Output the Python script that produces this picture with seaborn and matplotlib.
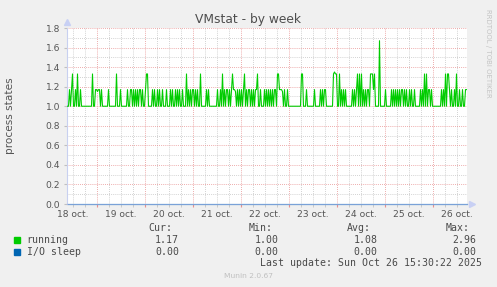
import numpy as np
import pandas as pd
import matplotlib
matplotlib.use("Agg")
import matplotlib.pyplot as plt
from matplotlib.patches import Rectangle
import seaborn as sns

# ---------------- data (30-minute samples) ----------------
seg_a = [1, 1, 1.17, 1, 1.17, 1.33, 1, 1, 1.17, 1, 1.33, 1, 1, 1.17, 1,
         1, 1, 1, 1, 1, 1, 1, 1, 1, 1,
         1.33, 1, 1, 1.17, 1.17, 1.15, 1.17, 1.17, 1, 1.17, 1,
         1, 1, 1, 1, 1, 1.17,
         1, 1, 1, 1, 1, 1, 1, 1.33,
         1, 1, 1, 1.17, 1, 1, 1]
seg_b = [1, 1, 1,
         1.17, 1, 1, 1.17, 1.17, 1, 1.17, 1, 1.17, 1, 1.17, 1, 1.17, 1.17, 1, 1.17, 1, 1,
         1.17, 1.33, 1.33, 1, 1, 1, 1,
         1.17, 1, 1.17, 1, 1, 1.17, 1, 1.17, 1, 1, 1.17, 1, 1, 1,
         1.17, 1, 1, 1, 1.17, 1, 1.17, 1, 1, 1.17, 1, 1.17, 1, 1.17, 1, 1, 1.17, 1, 1]
seg_c = [1, 1.33, 1, 1.17, 1, 1.17, 1, 1.17, 1.17, 1, 1.17, 1, 1.17, 1, 1,
         1.33, 1, 1, 1, 1, 1, 1.17, 1, 1.17,
         1, 1, 1, 1, 1, 1, 1, 1,
         1.17, 1, 1, 1.17, 1, 1.33, 1, 1.17, 1, 1.17, 1.17, 1, 1.17, 1, 1.17, 1.33,
         1.17, 1.17, 1.15, 1, 1.17, 1, 1.17, 1, 1.17, 1]
seg_d = [1.17, 1.33, 1, 1.17, 1, 1.17, 1.17, 1, 1.17, 1, 1.17, 1, 1.17, 1.17, 1.33, 1, 1,
         1.17, 1, 1, 1, 1.17, 1, 1.17, 1, 1.17, 1, 1.17, 1, 1.17, 1, 1.17, 1.17, 1,
         1.33, 1.33, 1.17, 1.17, 1.17, 1.15, 1, 1.17, 1, 1, 1.17,
         1, 1, 1, 1, 1, 1, 1, 1, 1, 1, 1, 1, 1]
seg_e = [1.33, 1.33, 1, 1, 1, 1.17, 1, 1, 1, 1, 1, 1, 1,
         1.17, 1, 1, 1, 1, 1, 1.17, 1, 1.17, 1, 1.17, 1.17,
         1, 1, 1, 1, 1, 1, 1,
         1.33, 1.35, 1.33, 1.33, 1, 1, 1.33, 1, 1.17, 1, 1.17, 1, 1.17,
         1, 1, 1, 1, 1, 1,
         1.17, 1, 1.17, 1, 1.17, 1.33, 1, 1.33]
seg_f = [1, 1.33, 1, 1.17, 1, 1.17, 1, 1.17, 1.17, 1, 1.33, 1.33, 1.33, 1.17, 1.33,
         1, 1, 1, 1, 1.67, 1, 1, 1, 1, 1,
         1.17, 1, 1, 1, 1, 1,
         1.17, 1, 1.17, 1, 1.17, 1, 1.17, 1, 1.17, 1, 1.17, 1.17, 1, 1.17, 1, 1.17, 1, 1,
         1.17, 1, 1.17, 1, 1, 1.17, 1, 1, 1, 1]
seg_g = [1, 1.17, 1, 1.17, 1, 1.33, 1, 1.33, 1, 1.17, 1.17, 1, 1.17,
         1, 1, 1, 1, 1, 1, 1, 1, 1,
         1.17, 1, 1.17, 1, 1.33, 1, 1.33, 1.33, 1.17, 1, 1.17, 1, 1, 1.17, 1, 1.33,
         1, 1, 1.17, 1, 1, 1.17, 1, 1, 1.17, 1.17]
running = seg_a + seg_b + seg_c + seg_d + seg_e + seg_f + seg_g
io_sleep = [0.0] * len(running)

start_hour = 9.4          # hours after 18 oct. 00:00 of first sample
step_hour = 0.5
day_labels = ["18 oct.", "19 oct.", "20 oct.", "21 oct.", "22 oct.",
              "23 oct.", "24 oct.", "25 oct.", "26 oct."]
legend_names = ["running", "I/O sleep"]
legend_colors = ["#00cc00", "#0066b3"]
stats_cur = ["1.17", "0.00"]
stats_min = ["1.00", "0.00"]
stats_avg = ["1.08", "0.00"]
stats_max = ["2.96", "0.00"]

t = start_hour + step_hour * np.arange(len(running))
df = pd.DataFrame({"t": t, "running": running, "io": io_sleep})

# ---------------- figure ----------------
W, H = 497, 287
fig = plt.figure(figsize=(W / 100, H / 100), dpi=100, facecolor="#f0f0f0")
ax = fig.add_axes([67 / W, 83 / H, 400 / W, 176 / H])
ax.set_facecolor("white")

def fx(x):
    return x / W

def fy(y):
    return 1 - y / H

sns.lineplot(data=df, x="t", y="io", color="#0066b3", lw=1.0, alpha=0.3,
             ax=ax, clip_on=False, zorder=3)
sns.lineplot(data=df, x="t", y="running", color="#00cc00", lw=0.8, ax=ax, zorder=4)

ax.set_xlim(9.15, 209.15)
ax.set_ylim(0, 1.8)

# y grid / ticks
ax.set_yticks(np.round(np.arange(0, 1.81, 0.2), 1))
ax.set_yticks(np.round(np.arange(0.1, 1.8, 0.2), 1), minor=True)
ax.yaxis.set_major_formatter(matplotlib.ticker.FormatStrFormatter("%.1f"))
# x grid: midnights (major) and 6h (minor)
midnights = [24 * k for k in range(1, 9)]
sixh = [h for h in range(12, 210, 6) if h % 24 != 0]
ax.set_xticks(midnights)
ax.set_xticks(sixh, minor=True)
ax.set_xticklabels([])

dot = (0, (1, 1.5))
ax.grid(which="major", color="#e89090", ls=dot, lw=0.6)
ax.grid(which="minor", color="#c4c4c4", ls=dot, lw=0.6)
ax.set_axisbelow(True)

ax.tick_params(axis="y", which="major", length=2, color="#c0c0c0", labelsize=6.6,
               labelcolor="#555555", pad=3)
ax.tick_params(axis="y", which="minor", length=0)
ax.tick_params(axis="x", which="major", length=2, color="#e89090", direction="out")
ax.tick_params(axis="x", which="minor", length=2, color="#c4c4c4", direction="out")
ax.set_xlabel("")
ax.set_ylabel("")

for s in ["top", "right"]:
    ax.spines[s].set_visible(False)
ax.spines["left"].set_color("#c8d0f0")
ax.spines["bottom"].set_color("#b0bde8")
ax.spines["left"].set_linewidth(0.8)
ax.spines["bottom"].set_linewidth(0.8)

# day labels at noon
sec = ax.secondary_xaxis("bottom")
sec.set_xticks([12 + 24 * k for k in range(len(day_labels))], labels=day_labels)
sec.tick_params(length=0, pad=4, labelsize=6.6, labelcolor="#555555")
sec.spines["bottom"].set_visible(False)

# axis arrows
ax.plot([0], [1.035], marker="^", color="#c8d0f4", markersize=4, transform=ax.transAxes,
        clip_on=False)
ax.plot([1.012], [0], marker=">", color="#c8d0f4", markersize=4, transform=ax.transAxes,
        clip_on=False)

# titles and side texts
fig.text(fx(248), fy(19), "VMstat - by week", ha="center", va="center",
         fontsize=8.8, color="#4d4d4d")
fig.text(fx(10), fy(116), "process states", rotation=90, ha="center", va="center",
         fontsize=7.6, color="#555555")
fig.text(fx(488), fy(53), "RRDTOOL / TOBI OETIKER", rotation=270, ha="center",
         va="center", fontsize=5.0, color="#c4c4c4")

# legend block
mono = dict(family="DejaVu Sans Mono", fontsize=7.1, color="#4a4a4a")
for label, xr in zip(["Cur:", "Min:", "Avg:", "Max:"], [172.3, 272.3, 371, 470]):
    fig.text(fx(xr), fy(228), label, ha="right", va="center", **mono)

rows_y = [240, 252]
for name, col, cur, mn, av, mx, yy in zip(legend_names, legend_colors, stats_cur,
                                          stats_min, stats_avg, stats_max, rows_y):
    fig.patches.append(Rectangle((fx(14), fy(yy + 2.7)), 6 / W, 5.4 / H,
                                 transform=fig.transFigure, color=col))
    fig.text(fx(26.7), fy(yy), name, ha="left", va="center", **mono)
    for v, xr in zip([cur, mn, av, mx], [179, 278.7, 377.7, 476.7]):
        fig.text(fx(xr), fy(yy), v, ha="right", va="center", **mono)

fig.text(fx(482.3), fy(263.5), "Last update: Sun Oct 26 15:30:22 2025", ha="right",
         va="center", **mono)
fig.text(fx(248), fy(276.5), "Munin 2.0.67", ha="center", va="center", fontsize=5.4,
         color="#c0c0c0")

fig.savefig("out.png", dpi=100, facecolor=fig.get_facecolor())
